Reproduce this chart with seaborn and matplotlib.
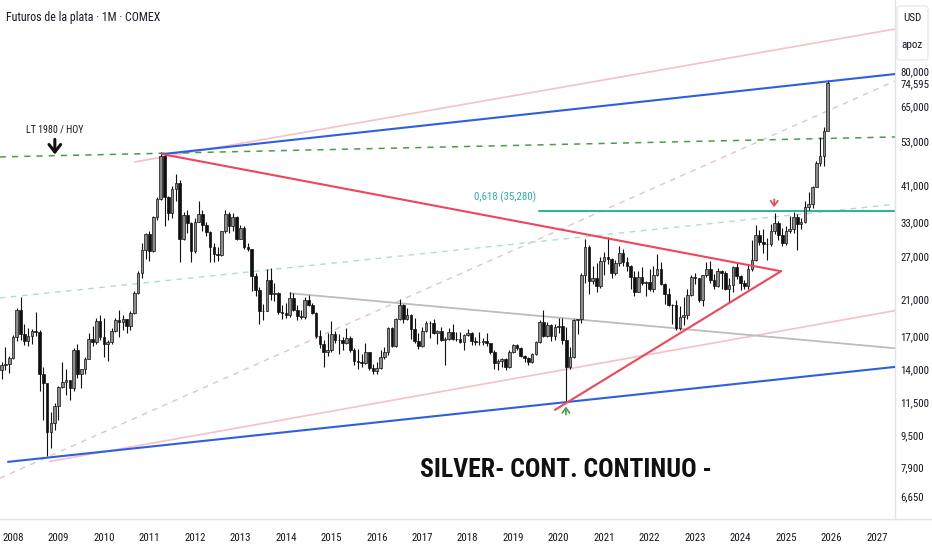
import os
import numpy as np
import pandas as pd
import matplotlib
matplotlib.use("Agg")
import matplotlib.pyplot as plt
import seaborn as sns
from matplotlib import font_manager as fm
from matplotlib.ticker import FixedLocator, FixedFormatter, NullLocator
from matplotlib.patches import FancyBboxPatch
from matplotlib.lines import Line2D

# ---------------- data (monthly candles from Oct 2007) ----------------
start_year = 2007
start_month = 10
first_open = 13.90

closes = [
    14.35, 14.45, 14.96,
    16.86, 19.80, 17.22, 16.45, 16.96, 17.50, 17.42, 13.62, 12.92, 9.70, 10.23, 11.30,
    12.60, 13.00, 13.12, 12.50, 15.60, 13.56, 13.98, 14.87, 16.66, 16.42, 18.50, 16.85,
    16.17, 16.43, 17.52, 18.68, 18.38, 18.70, 18.00, 19.47, 21.88, 24.48, 28.09, 30.91,
    27.93, 34.05, 37.80, 48.60, 38.30, 34.85, 40.08, 41.63, 29.96, 34.45, 32.83, 27.92,
    33.17, 34.57, 32.48, 31.26, 28.52, 27.45, 27.34, 31.36, 34.59, 32.25, 34.12, 29.95,
    31.93, 28.50, 28.25, 24.18, 22.26, 19.69, 19.69, 23.55, 21.70, 21.87, 19.50, 19.45,
    19.20, 21.20, 19.80, 19.10, 19.00, 21.00, 20.40, 19.40, 17.00, 16.20, 15.50, 15.60,
    17.20, 16.60, 16.60, 16.30, 16.80, 15.60, 14.70, 14.60, 14.50, 15.50, 14.10, 13.80,
    14.10, 15.00, 15.50, 17.80, 16.00, 18.70, 20.30, 18.70, 19.20, 17.70, 16.50, 16.00,
    17.50, 18.30, 18.30, 17.30, 17.50, 16.60, 16.70, 17.40, 16.70, 16.70, 16.40, 17.10,
    17.30, 16.50, 16.40, 16.40, 16.50, 16.30, 15.50, 14.50, 14.70, 14.80, 14.20, 15.50,
    16.10, 15.80, 15.10, 14.90, 14.60, 15.30, 16.40, 18.40, 17.00, 18.10, 17.00, 17.90,
    18.00, 16.60, 14.20, 15.00, 18.60, 18.70, 24.20, 28.60, 23.40, 23.90, 22.70, 26.40,
    26.90, 26.70, 24.50, 26.00, 27.60, 26.10, 25.50, 24.00, 22.00, 24.00, 23.10, 23.30,
    22.30, 24.30, 25.10, 23.00, 21.70, 20.30, 20.30, 17.80, 19.00, 19.20, 21.60, 24.00,
    23.80, 20.90, 24.20, 25.10, 23.60, 22.80, 24.90, 24.60, 22.40, 22.90, 25.40, 24.10,
    23.20, 22.70, 25.10, 26.50, 30.60, 29.40, 29.10, 29.00, 31.40, 32.80, 30.70, 29.20,
    31.30, 31.70, 34.10, 32.60, 33.00, 36.10, 36.70, 40.70, 46.60, 48.60, 56.40, 74.595,
]
highs = [
    14.60, 15.90, 15.10,
    17.10, 20.00, 21.30, 18.20, 17.80, 17.70, 19.50, 17.60, 14.20, 12.50, 10.90, 11.50,
    12.70, 14.60, 14.00, 13.10, 15.80, 16.20, 14.00, 15.00, 17.30, 18.00, 18.90, 19.20,
    18.90, 16.60, 17.80, 18.90, 19.80, 19.20, 18.80, 19.60, 22.10, 24.90, 29.30, 31.00,
    31.30, 34.30, 38.20, 49.80, 49.50, 38.40, 40.80, 43.80, 42.20, 35.00, 35.50, 33.00,
    33.80, 37.50, 35.40, 33.10, 31.40, 29.20, 28.50, 31.40, 35.40, 35.00, 34.80, 34.20,
    32.50, 32.40, 29.20, 28.30, 24.60, 22.60, 20.50, 25.10, 25.20, 23.10, 22.00, 20.40,
    20.60, 21.90, 21.80, 20.30, 19.80, 21.30, 21.60, 20.60, 19.50, 17.60, 16.60, 17.30,
    18.50, 17.50, 17.20, 16.90, 17.80, 17.00, 15.80, 15.70, 15.30, 16.30, 15.50, 14.40,
    14.60, 15.60, 15.90, 17.90, 17.90, 18.90, 21.10, 20.50, 20.00, 19.30, 18.90, 17.30,
    17.90, 18.50, 18.50, 18.70, 17.60, 17.90, 16.90, 17.80, 18.20, 17.40, 17.40, 17.20,
    17.70, 17.40, 16.90, 17.40, 16.80, 17.30, 16.30, 15.60, 14.80, 14.90, 14.90, 15.60,
    16.20, 16.20, 15.90, 15.20, 15.00, 15.40, 16.50, 18.60, 19.75, 18.40, 18.20, 18.20,
    18.90, 18.90, 17.90, 15.90, 18.70, 18.80, 24.60, 29.90, 28.90, 25.60, 26.00, 26.90,
    27.80, 30.30, 26.80, 26.50, 28.70, 28.30, 26.90, 25.70, 24.80, 24.80, 25.40, 23.40,
    25.10, 25.50, 27.50, 26.20, 23.10, 22.50, 20.50, 20.90, 20.20, 21.30, 22.40, 24.30,
    24.60, 23.90, 24.30, 26.10, 26.30, 24.40, 25.30, 25.00, 24.80, 23.80, 25.50, 26.20,
    24.30, 23.50, 25.80, 29.80, 32.50, 31.60, 31.80, 30.10, 32.70, 34.90, 33.20, 32.00,
    32.30, 34.20, 35.00, 34.60, 33.90, 37.30, 39.50, 40.90, 47.20, 54.50, 57.50, 76.00,
]
lows = [
    13.20, 13.90, 13.70,
    14.80, 16.50, 16.60, 16.10, 16.00, 16.20, 17.00, 12.30, 10.40, 8.40, 8.80, 9.80,
    10.40, 12.50, 12.00, 11.70, 12.30, 13.30, 12.50, 13.60, 14.80, 16.00, 16.20, 16.60,
    15.00, 14.70, 16.20, 17.40, 16.90, 17.60, 17.30, 17.60, 19.30, 21.70, 23.80, 26.60,
    26.30, 27.70, 33.40, 37.60, 32.40, 33.50, 33.80, 37.30, 26.10, 29.70, 31.00, 26.10,
    27.60, 33.00, 31.30, 30.50, 26.10, 26.10, 26.40, 27.10, 31.10, 31.00, 31.40, 29.70,
    29.90, 28.20, 27.90, 22.10, 21.40, 18.20, 18.60, 19.60, 21.00, 20.80, 19.30, 18.80,
    18.90, 19.00, 19.60, 18.60, 18.70, 18.80, 20.20, 19.30, 16.80, 15.80, 14.20, 15.10,
    15.50, 16.30, 15.30, 15.60, 16.20, 15.50, 14.30, 14.00, 14.20, 14.40, 13.90, 13.60,
    13.60, 14.00, 14.80, 15.20, 15.90, 15.90, 18.60, 18.30, 18.60, 16.70, 16.30, 15.70,
    15.90, 17.40, 16.80, 17.20, 16.20, 16.50, 14.30, 16.60, 16.60, 16.50, 16.30, 15.60,
    17.00, 16.10, 16.10, 16.10, 16.10, 16.00, 15.30, 14.00, 13.90, 14.20, 13.90, 14.10,
    15.40, 15.60, 15.00, 14.60, 14.30, 14.50, 15.20, 16.30, 16.90, 16.90, 16.50, 16.60,
    17.30, 16.20, 11.60, 14.00, 14.90, 17.20, 18.30, 23.20, 21.70, 23.00, 21.90, 22.50,
    24.20, 25.90, 23.80, 24.30, 25.60, 25.60, 24.80, 22.30, 21.40, 21.90, 22.90, 21.50,
    22.10, 22.00, 24.10, 22.90, 20.50, 20.20, 18.20, 17.60, 17.60, 18.10, 18.80, 21.50,
    23.00, 20.70, 20.20, 24.00, 23.20, 22.30, 22.60, 22.40, 22.20, 20.70, 22.00, 23.70,
    22.20, 22.30, 22.40, 24.80, 26.30, 28.90, 27.60, 26.50, 28.70, 30.90, 29.80, 28.80,
    28.90, 31.00, 31.10, 28.00, 31.70, 32.80, 35.50, 36.00, 40.60, 45.80, 45.80, 56.20,
]

# trend lines: (x0, y0, x1, y1) in (year, price)
line_blue_top = [2011.28, 49.2, 2027.40, 78.6]
line_blue_bot = [2007.89, 8.13, 2027.40, 14.17]
line_pink_top = [2010.68, 47.0, 2027.40, 102.3]
line_pink_bot = [2008.81, 8.15, 2027.40, 19.7]
line_green_lt = [2007.71, 48.4, 2027.40, 54.4]
line_red_top = [2011.28, 49.2, 2024.89, 24.8]
line_red_bot = [2019.92, 11.02, 2024.89, 24.8]
line_gray = [2014.09, 21.8, 2027.40, 15.8]
line_fib = [2019.57, 35.28, 2027.40, 35.28]
line_teal_dash = [2007.71, 21.2, 2027.40, 36.7]
line_rose_dash = [2007.71, 7.39, 2027.40, 75.5]

year_ticks = list(range(2008, 2028))
price_ticks = [80, 74.595, 65, 53, 41, 33, 27, 21, 17, 14, 11.5, 9.5, 7.9, 6.65]

# ---------------- fonts: pick an installed condensed face if any ----------------
def find_font(patterns):
    files = [f.fname for f in fm.fontManager.ttflist]
    for pat in patterns:
        for fn in files:
            if os.path.basename(fn).lower().startswith(pat.lower()):
                return fn
    return None


reg_file = find_font(["LiberationSansNarrow-Regular", "RobotoCondensed-Regular",
                      "OpenSans_Condensed-Regular", "OpenSansCondensed-Light",
                      "NotoSans-CondensedRegular", "NotoSans-Condensed.", "DejaVuSansCondensed."])
bold_file = find_font(["LiberationSansNarrow-Bold.", "RobotoCondensed-Bold.",
                       "OpenSans_Condensed-Bold.", "OpenSansCondensed-Bold",
                       "NotoSans-CondensedBold.", "DejaVuSansCondensed-Bold."])

sns.set_theme(style="white")
plt.rcParams["font.family"] = ["DejaVu Sans"]


def fp(size, bold=False):
    f = bold_file if bold else reg_file
    if f:
        return fm.FontProperties(fname=f, size=size)
    return fm.FontProperties(family="DejaVu Sans", stretch="condensed",
                             weight="bold" if bold else "normal", size=size * 0.85)


W, H = 932, 550
fig = plt.figure(figsize=(W / 100, H / 100), dpi=100)
ax_right = 895 / W
ax_bottom = (H - 519) / H
ax = fig.add_axes([0, ax_bottom, ax_right, 1 - ax_bottom])
ax.set_facecolor("white")

ax.set_yscale("log")
ax.set_xlim(2007.714, 2027.397)
ax.set_ylim(5.82, 121.2)

# candles
n = len(closes)
xs = start_year + (start_month - 1) / 12 + np.arange(n) / 12
opens = [first_open] + closes[:-1]
df = pd.DataFrame({"x": xs, "open": opens, "high": highs, "low": lows, "close": closes})
df["up"] = df["close"] >= df["open"]
df["lo_body"] = df[["open", "close"]].min(axis=1)
df["hi_body"] = df[["open", "close"]].max(axis=1)

ax.vlines(df["x"], df["low"], df["high"], color="#111111", lw=0.8, zorder=3)
bw = 0.058
for up, col in [(True, "#8c8c8c"), (False, "#111111")]:
    d = df[df["up"] == up]
    ax.bar(d["x"], d["hi_body"] - d["lo_body"], bottom=d["lo_body"], width=bw,
           color=col, edgecolor="#111111", linewidth=0.5, zorder=4)


def draw(seg, color, ls="-", lw=1.2, z=2):
    d = pd.DataFrame({"x": [seg[0], seg[2]], "y": [seg[1], seg[3]]})
    sns.lineplot(data=d, x="x", y="y", ax=ax, color=color, linestyle=ls, linewidth=lw,
                 zorder=z, legend=False)


draw(line_rose_dash, "#e6c4c4", ls=(0, (4, 4)), lw=1.0, z=1)
draw(line_teal_dash, "#a8e0d6", ls=(0, (4, 4)), lw=1.0, z=1)
draw(line_pink_top, "#f6c0c8", lw=1.2)
draw(line_pink_bot, "#f6c0c8", lw=1.2)
draw(line_gray, "#bdbdbd", lw=1.3)
draw(line_green_lt, "#43a047", ls=(0, (4, 4)), lw=1.1)
draw(line_blue_top, "#2f5fe0", lw=1.5, z=5)
draw(line_blue_bot, "#2f5fe0", lw=1.5, z=5)
draw(line_red_top, "#f0455a", lw=1.5, z=5)
draw(line_red_bot, "#f0455a", lw=1.5, z=5)
draw(line_fib, "#2bb39a", lw=1.4, z=2)

ax.set_xlabel("")
ax.set_ylabel("")

# annotations
ax.text(2008.92, 56.8, "LT 1980 / HOY", ha="center", va="center", fontproperties=fp(7.2), color="#131722")
ax.annotate("", xy=(2008.92, 48.3), xytext=(2008.92, 54.5),
            arrowprops=dict(arrowstyle="->,head_width=0.35,head_length=0.45", lw=2.2, color="#111111"))
ax.annotate("", xy=(2020.16, 11.42), xytext=(2020.16, 10.55),
            arrowprops=dict(arrowstyle="->,head_width=0.22,head_length=0.3", lw=1.2, color="#43a047"))
ax.annotate("", xy=(2024.74, 35.5), xytext=(2024.74, 38.4),
            arrowprops=dict(arrowstyle="->,head_width=0.22,head_length=0.3", lw=1.2, color="#f0455a"))
ax.text(2018.82, 38.3, "0,618 (35,280)", ha="center", va="center", fontproperties=fp(7.8), color="#2bb39a")
ax.text(2020.16, 7.76, "SILVER- CONT. CONTINUO -", ha="center", va="center",
        fontproperties=fp(18.5, bold=True), color="#111111")

# axes ticks
for s in ["left", "top"]:
    ax.spines[s].set_visible(False)
ax.spines["right"].set_color("#e0e3eb")
ax.spines["bottom"].set_color("#e0e3eb")
ax.spines["right"].set_linewidth(1.0)
ax.spines["bottom"].set_linewidth(1.0)

ax.yaxis.tick_right()
ax.yaxis.set_major_locator(FixedLocator(price_ticks))
ax.yaxis.set_major_formatter(FixedFormatter([f"{v:,.3f}".replace(".", ",") for v in price_ticks]))
ax.yaxis.set_minor_locator(NullLocator())
ax.set_xticks(year_ticks)
ax.set_xticklabels([str(y) for y in year_ticks])
ax.tick_params(axis="y", length=0, pad=4, labelcolor="#131722")
ax.tick_params(axis="x", length=0, pad=10, labelcolor="#131722")
for lab in ax.get_yticklabels() + ax.get_xticklabels():
    lab.set_fontproperties(fp(7.8))
ax.grid(False)

# bottom separator extends under price scale
fig.add_artist(Line2D([ax_right, 1], [ax_bottom, ax_bottom], transform=fig.transFigure,
                      color="#e0e3eb", lw=1.0))

# title
fig.text(6 / W, 1 - 18 / H, "Futuros de la plata · 1M · COMEX", ha="left", va="center",
         fontproperties=fp(8.6), color="#131722")

# currency box
box = FancyBboxPatch((897 / W, 1 - 60 / H), 31 / W, 54 / H, boxstyle="round,pad=0,rounding_size=0.004",
                     transform=fig.transFigure, facecolor="white", edgecolor="#e0e3eb", lw=0.8)
fig.add_artist(box)
fig.text(912 / W, 1 - 18 / H, "USD", ha="center", va="center", fontproperties=fp(8), color="#131722")
fig.text(912 / W, 1 - 45 / H, "apoz", ha="center", va="center", fontproperties=fp(8), color="#131722")

fig.savefig("out.png", dpi=100, facecolor="white")
